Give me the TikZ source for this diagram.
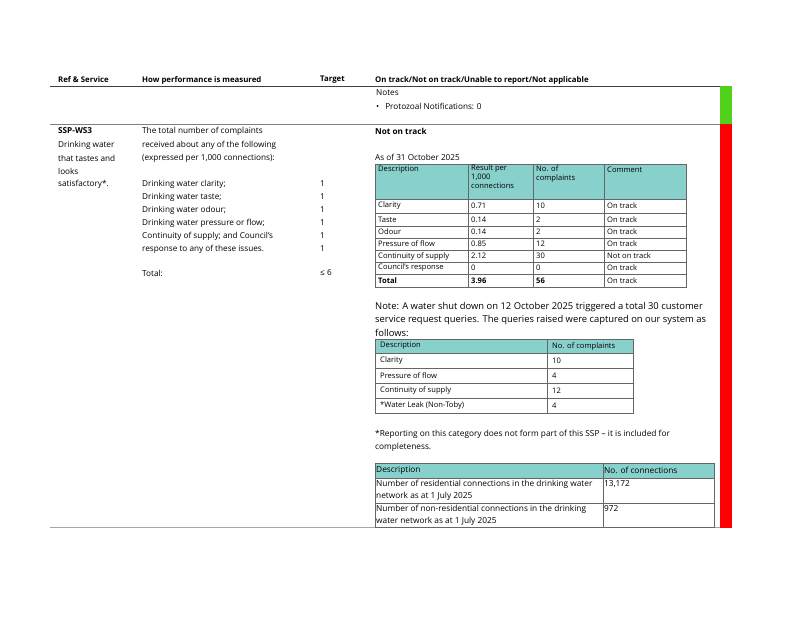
\documentclass[tikz,border=0pt]{standalone}
\usepackage{fontspec}
\setmainfont{Open Sans}
\definecolor{hcol}{RGB}{136,208,204}
\begin{document}
\begin{tikzpicture}[x=1pt,y=-1pt,
 t/.style={anchor=west,inner sep=0pt,font=\fontsize{8.2}{10}\selectfont},
 big/.style={anchor=west,inner sep=0pt,font=\fontsize{9.4}{10}\selectfont},
 hd/.style={anchor=west,inner sep=0pt,font=\fontsize{7.8}{8}\selectfont\bfseries},
 tb/.style={anchor=west,inner sep=0pt,font=\fontsize{7.6}{9}\selectfont},
 tc/.style={anchor=west,inner sep=0pt,font=\fontsize{8.3}{9}\selectfont},
 hfill/.style={fill=hcol,draw=gray!80!black,line width=0.5pt},
 cell/.style={draw=gray!80!black,line width=0.5pt}]
\useasboundingbox (0,0) rectangle (800,619);
% headers
\node[hd] (h1) at (58,80) {Ref \& Service};
\node[hd] (h2) at (142,80) {How performance is measured};
\node[hd] (h3) at (320,80) {Target};
\node[hd] (h4) at (375,80) {On track/Not on track/Unable to report/Not applicable};
\draw[line width=1pt,black!75] (50,86) -- (720,86);
\draw[line width=0.6pt,gray] (50,124) -- (720,124);
\draw[line width=0.6pt,gray!70] (50,527.5) -- (720,527.5);
\fill[green!60!lime!80!black!90] (720,86) rectangle (732,124);
\fill[red] (720,124) rectangle (732,528);
% notes
\node[t] (n1) at (376,93) {Notes};
\node[t] (n2) at (376,106) {\textbullet\hspace{6pt}Protozoal Notifications: 0};
% left columns
\node[t,font=\fontsize{8.2}{10}\selectfont\bfseries] (r1) at (58,131) {SSP-WS3};
\node[t] at (58,145) {Drinking water};
\node[t] at (58,158) {that tastes and};
\node[t] at (58,171) {looks};
\node[t] at (58,184) {satisfactory*.};
\node[t] at (142,131) {The total number of complaints};
\node[t] at (142,145) {received about any of the following};
\node[t] at (142,158) {(expressed per 1,000 connections):};
\foreach \y/\s in {184/Drinking water clarity;,197/Drinking water taste;,210/Drinking water odour;,223/Drinking water pressure or flow;,236/Continuity of supply; and Council's,249/response to any of these issues.}
  \node[t] at (142,\y) {\s};
\foreach \y in {184,197,210,223,236,249} \node[t] at (320,\y) {1};
\node[t] at (142,273) {Total:};
\node[t] at (320,273) {≤ 6};
\node[t,font=\fontsize{8.2}{10}\selectfont\bfseries] (nt) at (375,131) {Not on track};
\node[t] (asof) at (375,157) {As of 31 October 2025};
% table 1
\fill[hfill] (375,164) rectangle (686,199);
\foreach \a/\b in {199/213,213/226,226/238,238/250,250/262,262/274,274/287} \draw[cell] (375,\a) rectangle (686,\b);
\foreach \x in {468,533,604} \draw[cell] (\x,164) -- (\x,287);
\node[tb] at (378,170) {Description};
\node[tb,align=left,anchor=north west] at (471,165) {Result per\\1,000\\connections};
\node[tb,align=left,anchor=north west] at (536,165) {No. of\\complaints};
\node[tb] at (607,170) {Comment};
\foreach \y/\a/\b/\c/\d in {206/Clarity/0.71/10/On track,219.5/Taste/0.14/2/On track,232/Odour/0.14/2/On track,244/Pressure of flow/0.85/12/On track,256/Continuity of supply/2.12/30/Not on track,268/Council's response/0/0/On track}
 {\node[tb] at (378,\y) {\a}; \node[tb] at (471,\y) {\b}; \node[tb] at (536,\y) {\c}; \node[tb] at (607,\y) {\d};}
\node[tb,font=\fontsize{7.6}{9}\selectfont\bfseries] at (378,280.5) {Total};
\node[tb,font=\fontsize{7.6}{9}\selectfont\bfseries] at (471,280.5) {3.96};
\node[tb,font=\fontsize{7.6}{9}\selectfont\bfseries] at (536,280.5) {56};
\node[tb] at (607,280.5) {On track};
% note
\node[big] at (375,307) {Note: A water shut down on 12 October 2025 triggered a total 30 customer};
\node[big] at (375,320) {service request queries. The queries raised were captured on our system as};
\node[big] at (375,333) {follows:};
% table 2
\fill[hfill] (375,339) rectangle (633,353);
\foreach \a/\b in {353/368,368/383,383/398,398/413} \draw[cell] (375,\a) rectangle (633,\b);
\draw[cell] (547,339) -- (547,413);
\foreach \y/\a/\b in {346/Description/No. of complaints,360.5/Clarity/10,375.5/Pressure of flow/4,390.5/Continuity of supply/12,405.5/*Water Leak (Non-Toby)/4}
 {\node[tb] at (380,\y) {\a}; \node[tb] at (552,\y) {\b};}
\node[tc] at (375,434) {*Reporting on this category does not form part of this SSP – it is included for};
\node[tc] at (375,447) {completeness.};
% table 3
\fill[hfill] (375,463) rectangle (714,478);
\draw[cell] (375,478) rectangle (714,503);
\draw[cell] (375,503) rectangle (714,527);
\draw[cell] (603,463) -- (603,527);
\node[tc] at (376,470.5) {Description};
\node[tc] at (604,470.5) {No. of connections};
\node[tc] at (376,484) {Number of residential connections in the drinking water};
\node[tc] at (376,496.5) {network as at 1 July 2025};
\node[tc] at (604,484) {13,172};
\node[tc] at (376,509) {Number of non-residential connections in the drinking};
\node[tc] at (376,521.5) {water network as at 1 July 2025};
\node[tc] at (604,509) {972};
\end{tikzpicture}
\end{document}
